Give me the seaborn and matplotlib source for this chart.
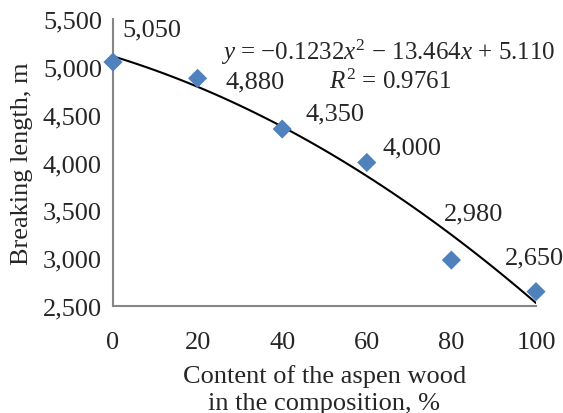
import numpy as np
import pandas as pd
import seaborn as sns
import matplotlib.pyplot as plt

# aspen wood content (%) and breaking length (m)
content = [0, 20, 40, 60, 80, 100]
breaking = [5050, 4880, 4350, 4000, 2980, 2650]
labels = ["5,050", "4,880", "4,350", "4,000", "2,980", "2,650"]
# label offsets in pixels (dx to left edge, dy up)
offsets = [(9, 33), (28, -3), (23, 16), (16, 15), (-8, 47), (-31, 34)]

df = pd.DataFrame({"content": content, "breaking": breaking})

sns.set_style("white")
plt.rcParams["font.family"] = ["Liberation Serif", "DejaVu Serif"]
plt.rcParams["mathtext.fontset"] = "custom"
plt.rcParams["mathtext.rm"] = "Liberation Serif"
plt.rcParams["mathtext.it"] = "Liberation Serif:italic"

FS = 19

fig = plt.figure(figsize=(5.63, 4.14), dpi=100)
ax = fig.add_axes([113 / 563, 1 - 307 / 414, 423 / 563, 287 / 414])

sns.regplot(data=df, x="content", y="breaking", order=2, ci=None,
            scatter=False, truncate=True, ax=ax,
            line_kws=dict(color="black", lw=1.5))
sns.scatterplot(data=df, x="content", y="breaking", marker="D", s=95,
                color="#4F81BD", edgecolor="none", ax=ax, zorder=3, clip_on=False)

for xv, yv, lab, (dx, dy) in zip(content, breaking, labels, offsets):
    ax.annotate(lab, (xv, yv), xytext=(dx * 0.72, dy * 0.72), textcoords="offset points",
                ha="left", va="center", fontsize=FS)

ax.text(388 / 563, 1 - 52 / 414,
        r"$y$ = −0.1232$x^2$ − 13.464$x$ + 5.110",
        transform=fig.transFigure, ha="center", va="center", fontsize=18)
ax.text(390 / 563, 1 - 82 / 414, r"$R^2$ = 0.9761",
        transform=fig.transFigure, ha="center", va="center", fontsize=18)

ax.set_xlim(0, 100)
ax.set_ylim(2500, 5500)
ax.set_xticks(range(0, 101, 20))
ax.set_yticks(range(2500, 5501, 500))
ax.yaxis.set_major_formatter(plt.FuncFormatter(lambda v, p: f"{int(v):,}"))

for s in ["top", "right"]:
    ax.spines[s].set_visible(False)
for s in ["left", "bottom"]:
    ax.spines[s].set_color("#868686")
    ax.spines[s].set_linewidth(1.5)
ax.tick_params(axis="both", direction="out", length=5, width=1.2, color="#868686",
               labelsize=FS, pad=3)
ax.tick_params(axis="x", pad=13)

ax.set_xlabel("Content of the aspen wood\nin the composition, %", fontsize=FS, labelpad=8,
              linespacing=1.3)
ax.set_ylabel("Breaking length, m", fontsize=FS, labelpad=7)

fig.savefig("out.png", dpi=100)
